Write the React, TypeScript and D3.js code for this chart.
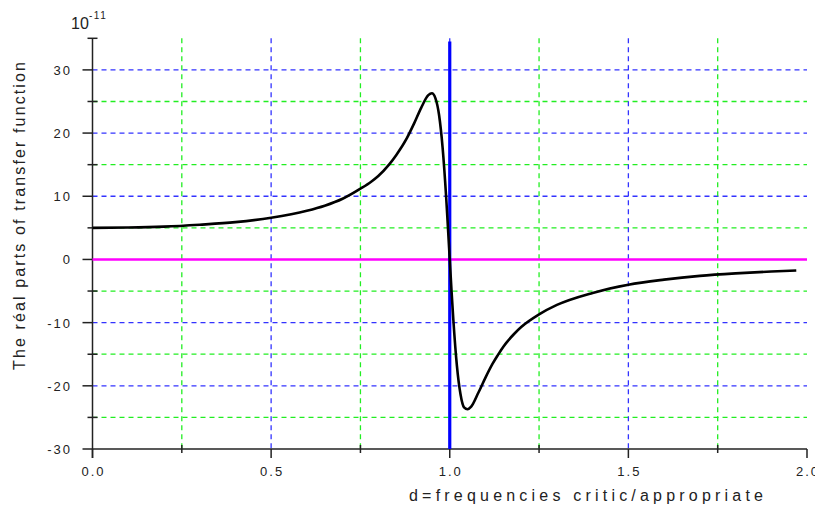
import React from "react";
import * as d3 from "d3";

// frequency ratio d and real part of transfer function (x 1e-11)
const dValues = [
  0, 0.1, 0.2, 0.3, 0.4, 0.5, 0.6, 0.65, 0.7, 0.75, 0.78, 0.8, 0.83, 0.85, 0.88, 0.9, 0.92,
  0.94, 0.95, 0.96, 0.97, 0.98, 0.99, 0.995, 1.0, 1.005, 1.01, 1.02, 1.03, 1.04, 1.05,
  1.06, 1.08, 1.1, 1.12, 1.135, 1.15, 1.18, 1.2, 1.25, 1.3, 1.4, 1.5, 1.6, 1.7, 1.8, 1.9, 1.97,
];
const realParts = [
  5.0, 5.05, 5.2, 5.5, 5.9, 6.6, 7.7, 8.5, 9.6, 11.2, 12.3, 13.2, 15.0, 16.5, 19.2, 21.5, 24.0,
  26.0, 26.3, 25.5, 22.9, 17.7, 9.8, 5.0, 0, -5.0, -9.5, -16.8, -21.3, -23.4, -23.7,
  -23.3, -21.1, -18.7, -16.5, -15.1, -13.8, -11.8, -10.7, -8.7, -7.2, -5.3, -4.0, -3.2, -2.6, -2.2, -1.9, -1.75,
];
// resonance marker (d = 1) and zero line
const markerX = [1, 1];
const markerY = [-30, 34.5];
const zeroX = [0, 2];
const zeroY = [0, 0];

const yMajor = [-30, -20, -10, 0, 10, 20, 30];
const yMinor = [-25, -15, -5, 5, 15, 25, 35];
const xMajor = [0, 0.5, 1.0, 1.5, 2.0];
const xMinor = [0.25, 0.75, 1.25, 1.75];
const xLabels = ["0.0", "0.5", "1.0", "1.5", "2.0"];

const width = 815;
const height = 511;

const App = () => {
  const x = d3.scaleLinear().domain([0, 2]).range([92.5, 807]);
  const y = d3.scaleLinear().domain([-30, 35]).range([449, 38.3]);

  const line = d3
    .line<[number, number]>()
    .x((p) => x(p[0]))
    .y((p) => y(p[1]));
  const curve = d3
    .line<[number, number]>()
    .x((p) => x(p[0]))
    .y((p) => y(p[1]))
    .curve(d3.curveMonotoneX);

  const pts = dValues.map((d, i) => [d, realParts[i]] as [number, number]);
  const marker = markerX.map((d, i) => [d, markerY[i]] as [number, number]);
  const zero = zeroX.map((d, i) => [d, zeroY[i]] as [number, number]);

  const font = "'Liberation Sans', Arial, sans-serif";
  const x0 = x(0);
  const yBottom = y(-30);
  const yTop = y(35);

  return (
    <svg
      width={width}
      height={height}
      style={{ position: "absolute", left: 0, top: 0, background: "#fff" }}
      fontFamily={font}
    >
      {/* horizontal grid */}
      {yMajor
        .filter((v) => v !== 0 && v !== -30)
        .map((v) => (
          <line key={"hb" + v} x1={x0} x2={x(2)} y1={y(v)} y2={y(v)} stroke="#3333ff" strokeWidth={1.3} strokeDasharray="5,4" />
        ))}
      {yMinor
        .filter((v) => v !== 35)
        .map((v) => (
          <line key={"hg" + v} x1={x0} x2={x(2)} y1={y(v)} y2={y(v)} stroke="#22ee22" strokeWidth={1.3} strokeDasharray="5,4" />
        ))}
      {/* vertical grid */}
      {xMajor
        .filter((v) => v !== 0 && v !== 2)
        .map((v) => (
          <line key={"vb" + v} x1={x(v)} x2={x(v)} y1={yTop} y2={yBottom} stroke="#3333ff" strokeWidth={1.3} strokeDasharray="5,4" />
        ))}
      {xMinor.map((v) => (
        <line key={"vg" + v} x1={x(v)} x2={x(v)} y1={yTop} y2={yBottom} stroke="#22ee22" strokeWidth={1.3} strokeDasharray="5,4" />
      ))}

      {/* axes */}
      <line x1={x0} x2={x0} y1={yTop} y2={yBottom + 9} stroke="#222" strokeWidth={1.5} />
      <line x1={x0} x2={x(2)} y1={yBottom} y2={yBottom} stroke="#222" strokeWidth={1.5} />
      {yMajor.map((v) => (
        <g key={"yt" + v}>
          <line x1={x0 - 10} x2={x0} y1={y(v)} y2={y(v)} stroke="#222" strokeWidth={1.5} />
          <text x={72} y={y(v) + 5} textAnchor="end" fontSize={13} letterSpacing={2} fill="#222">
            {v < 0 ? "-" + Math.abs(v) : String(v)}
          </text>
        </g>
      ))}
      {yMinor.map((v) => (
        <line key={"ym" + v} x1={x0 - 5} x2={x0 + 5} y1={y(v)} y2={y(v)} stroke="#222" strokeWidth={1.5} />
      ))}
      {xMajor.map((v, i) => (
        <g key={"xt" + v}>
          <line x1={x(v)} x2={x(v)} y1={yBottom} y2={yBottom + 9} stroke="#222" strokeWidth={1.5} />
          <text x={x(v) + 1} y={475.5} textAnchor="middle" fontSize={13} letterSpacing={2} fill="#222">
            {xLabels[i]}
          </text>
        </g>
      ))}
      {xMinor.map((v) => (
        <line key={"xm" + v} x1={x(v)} x2={x(v)} y1={yBottom - 4} y2={yBottom + 4} stroke="#222" strokeWidth={1.5} />
      ))}

      {/* series */}
      <path d={line(zero) || ""} fill="none" stroke="#ff00ff" strokeWidth={2.5} />
      <path d={line(marker) || ""} fill="none" stroke="#0000ff" strokeWidth={3.2} />
      <path d={curve(pts) || ""} fill="none" stroke="#000" strokeWidth={2.6} strokeLinejoin="round" />

      {/* exponent */}
      <text x={71} y={29} fontSize={16} fill="#222">
        10
      </text>
      <text x={89} y={19} fontSize={10} fill="#222" letterSpacing={1.5}>
        -11
      </text>

      {/* titles */}
      <text x={409} y={501} fontSize={16} fill="#222" textLength={354} lengthAdjust="spacing">
        d=frequencies critic/appropriate
      </text>
      <text
        transform="translate(25,370) rotate(-90)"
        x={0}
        y={0}
        fontSize={16}
        fill="#222"
        textLength={308}
        lengthAdjust="spacing"
      >
        The réal parts of  transfer function
      </text>
    </svg>
  );
};

export default App;
